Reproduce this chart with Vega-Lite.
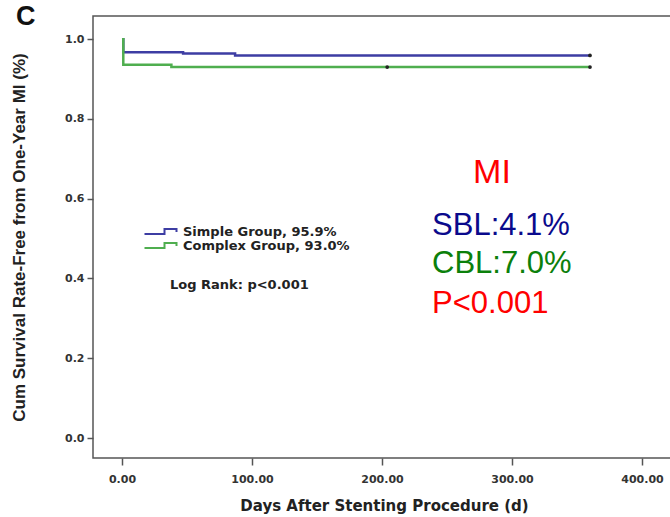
{
  "$schema": "https://vega.github.io/schema/vega-lite/v6.json",
  "width": 582,
  "height": 442,
  "autosize": {"type": "none"},
  "padding": {"left": 93, "top": 16, "right": 0, "bottom": 59},
  "background": "white",
  "config": {
    "view": {"stroke": "#555555", "strokeWidth": 1.5},
    "font": "Liberation Sans"
  },
  "title": {
    "text": "C",
    "anchor": "start",
    "orient": "top",
    "frame": "group",
    "font": "Liberation Sans",
    "fontSize": 27,
    "fontWeight": "bold",
    "color": "#111111",
    "baseline": "alphabetic",
    "offset": 0,
    "dx": -77,
    "dy": 36
  },
  "layer": [
    {
      "data": {
        "values": [
          {"day": 0, "rate": 1.0, "group": "Simple Group, 95.9%"},
          {"day": 1, "rate": 0.967, "group": "Simple Group, 95.9%"},
          {"day": 47, "rate": 0.964, "group": "Simple Group, 95.9%"},
          {"day": 87, "rate": 0.959, "group": "Simple Group, 95.9%"},
          {"day": 360, "rate": 0.959, "group": "Simple Group, 95.9%"},
          {"day": 0, "rate": 1.0, "group": "Complex Group, 93.0%"},
          {"day": 1, "rate": 0.936, "group": "Complex Group, 93.0%"},
          {"day": 38, "rate": 0.930, "group": "Complex Group, 93.0%"},
          {"day": 360, "rate": 0.930, "group": "Complex Group, 93.0%"}
        ]
      },
      "mark": {"type": "line", "interpolate": "step-after", "strokeWidth": 2.5},
      "encoding": {
        "x": {
          "field": "day",
          "type": "quantitative",
          "scale": {"domain": [-22.3, 425.4], "nice": false, "zero": false},
          "axis": {
            "values": [0, 100, 200, 300, 400],
            "format": ".2f",
            "title": "Days After Stenting Procedure (d)",
            "titleFont": "DejaVu Sans",
            "titleFontSize": 15,
            "titleFontWeight": "bold",
            "titleColor": "#222222",
            "titlePadding": 14,
            "labelFont": "DejaVu Sans",
            "labelFontSize": 11,
            "labelFontWeight": "bold",
            "labelColor": "#333333",
            "labelPadding": 8,
            "tickColor": "#555555",
            "tickSize": 7,
            "tickWidth": 1.5,
            "domain": false,
            "grid": false
          }
        },
        "y": {
          "field": "rate",
          "type": "quantitative",
          "scale": {"domain": [-0.05, 1.058], "nice": false, "zero": false},
          "axis": {
            "values": [0, 0.2, 0.4, 0.6, 0.8, 1.0],
            "format": ".1f",
            "title": "Cum Survival Rate-Free from One-Year MI (%)",
            "titleFont": "Liberation Sans",
            "titleFontSize": 17,
            "titleFontWeight": "bold",
            "titleColor": "#222222",
            "titlePadding": 36,
            "labelFont": "DejaVu Sans",
            "labelFontSize": 11,
            "labelFontWeight": "bold",
            "labelColor": "#333333",
            "labelPadding": 3,
            "tickColor": "#555555",
            "tickSize": 6,
            "tickWidth": 1.5,
            "domain": false,
            "grid": false
          }
        },
        "color": {
          "field": "group",
          "type": "nominal",
          "sort": ["Simple Group, 95.9%", "Complex Group, 93.0%"],
          "scale": {
            "domain": ["Simple Group, 95.9%", "Complex Group, 93.0%"],
            "range": ["#3d3da3", "#4fae4f"]
          },
          "legend": {
            "orient": "none",
            "legendX": 74,
            "legendY": 209,
            "title": null,
            "padding": 0,
            "symbolType": "M-5.8,0.5 H-1.8 V-0.5 H0.6 V0.1",
            "symbolSize": 100,
            "symbolStrokeWidth": 2,
            "symbolFillColor": "transparent",
            "labelFont": "DejaVu Sans",
            "labelFontSize": 13,
            "labelFontWeight": "bold",
            "labelColor": "#222222",
            "labelOffset": 3,
            "labelLimit": 400,
            "rowPadding": -2
          }
        }
      }
    },
    {
      "data": {
        "values": [
          {"day": 360, "rate": 0.959},
          {"day": 360, "rate": 0.930},
          {"day": 204, "rate": 0.930}
        ]
      },
      "mark": {"type": "point", "filled": true, "color": "#222222", "size": 14, "opacity": 1},
      "encoding": {
        "x": {"field": "day", "type": "quantitative"},
        "y": {"field": "rate", "type": "quantitative"}
      }
    },
    {
      "data": {"values": [{"day": 36.9, "rate": 0.383, "text": "Log Rank: p<0.001"}]},
      "mark": {"type": "text", "align": "left", "baseline": "middle", "font": "DejaVu Sans", "fontSize": 13, "fontWeight": "bold", "color": "#222222"},
      "encoding": {
        "x": {"field": "day", "type": "quantitative"},
        "y": {"field": "rate", "type": "quantitative"},
        "text": {"field": "text"}
      }
    },
    {
      "data": {"values": [{"day": 284.6, "rate": 0.639, "text": "MI"}]},
      "mark": {"type": "text", "align": "center", "baseline": "alphabetic", "font": "Liberation Sans", "fontSize": 34, "color": "#ff0000"},
      "encoding": {
        "x": {"field": "day", "type": "quantitative"},
        "y": {"field": "rate", "type": "quantitative"},
        "text": {"field": "text"}
      }
    },
    {
      "data": {"values": [{"day": 238.5, "rate": 0.509, "text": "SBL:4.1%"}]},
      "mark": {"type": "text", "align": "left", "baseline": "alphabetic", "font": "Liberation Sans", "fontSize": 31, "color": "#0a0a8c"},
      "encoding": {
        "x": {"field": "day", "type": "quantitative"},
        "y": {"field": "rate", "type": "quantitative"},
        "text": {"field": "text"}
      }
    },
    {
      "data": {"values": [{"day": 238.5, "rate": 0.414, "text": "CBL:7.0%"}]},
      "mark": {"type": "text", "align": "left", "baseline": "alphabetic", "font": "Liberation Sans", "fontSize": 31, "color": "#0b800b"},
      "encoding": {
        "x": {"field": "day", "type": "quantitative"},
        "y": {"field": "rate", "type": "quantitative"},
        "text": {"field": "text"}
      }
    },
    {
      "data": {"values": [{"day": 238.5, "rate": 0.313, "text": "P<0.001"}]},
      "mark": {"type": "text", "align": "left", "baseline": "alphabetic", "font": "Liberation Sans", "fontSize": 31, "color": "#ff0000"},
      "encoding": {
        "x": {"field": "day", "type": "quantitative"},
        "y": {"field": "rate", "type": "quantitative"},
        "text": {"field": "text"}
      }
    }
  ]
}
